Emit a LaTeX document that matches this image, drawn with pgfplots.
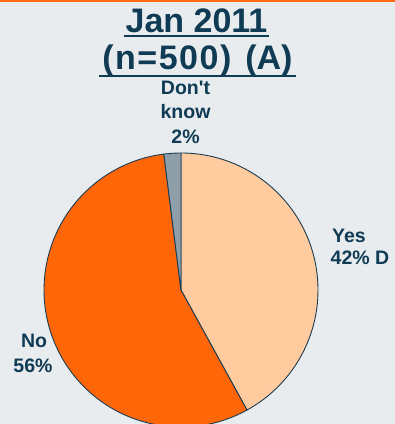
\documentclass[border=0pt]{standalone}
\usepackage{pgfplots}
\pgfplotsset{compat=1.18}
\usepackage{pgfplotstable}
\usepackage{fontspec}
\setmainfont{Liberation Sans}
\definecolor{bg}{HTML}{E9ECEE}
\definecolor{txt}{HTML}{0F3B55}
\definecolor{yescol}{HTML}{FFCB9F}
\definecolor{nocol}{HTML}{FF6608}
\definecolor{dkcol}{HTML}{8E9FA9}
\definecolor{edge}{HTML}{1A3D55}
\definecolor{topbar}{HTML}{FF6A13}

\pgfplotstableread{
label value
Yes 42
No 56
DK 2
}\piedata

\begin{document}
\begin{tikzpicture}[x=1pt,y=1pt]
\fill[bg] (0,0) rectangle (395,424);
\pgfplotstablegetelem{0}{value}\of{\piedata}\let\vA\pgfplotsretval
\pgfplotstablegetelem{1}{value}\of{\piedata}\let\vB\pgfplotsretval
\pgfplotstablegetelem{2}{value}\of{\piedata}\let\vC\pgfplotsretval
\pgfmathsetmacro\aA{90}
\pgfmathsetmacro\aB{90-3.6*\vA}
\pgfmathsetmacro\aC{\aB-3.6*\vB}
\pgfmathsetmacro\aD{\aC-3.6*\vC}
\begin{axis}[at={(0,0)},anchor=south west,scale only axis,
  width=395pt,height=424pt,xmin=0,xmax=395,ymin=0,ymax=424,hide axis]
\fill[yescol,draw=edge,line width=0.9pt] (axis cs:181,134) -- ++(\aA:137pt)
  arc[start angle=\aA,end angle=\aB,radius=137pt] -- cycle;
\fill[nocol,draw=edge,line width=0.9pt] (axis cs:181,134) -- ++(\aB:137pt)
  arc[start angle=\aB,end angle=\aC,radius=137pt] -- cycle;
\fill[dkcol,draw=edge,line width=0.9pt] (axis cs:181,134) -- ++(\aC:137pt)
  arc[start angle=\aC,end angle=\aD,radius=137pt] -- cycle;
\end{axis}
\fill[topbar] (0,422) rectangle (395,424);
\begin{scope}[every node/.style={inner sep=0pt,text=txt}]
\node[anchor=base,font=\bfseries\fontsize{34}{40}\selectfont] at (196.5,391) {Jan 2011};
\node[anchor=base,font=\bfseries\fontsize{34}{40}\selectfont] at (197.5,354) {(\kern1.5pt n\kern1.5pt =\kern1.5pt 5\kern1.5pt 0\kern1.5pt 0\kern1.5pt )\hspace{14pt}(A)};
\draw[txt,line width=1.7pt] (124,387.8) -- (269,387.8);
\draw[txt,line width=1.7pt] (99,348.3) -- (296,348.3);
\node[anchor=base,font=\bfseries\fontsize{19.5}{24}\selectfont] at (185.5,329) {Don\XeTeXglyph\XeTeXcharglyph"0027 t};
\node[anchor=base,font=\bfseries\fontsize{19.5}{24}\selectfont] at (185.5,305) {know};
\node[anchor=base,font=\bfseries\fontsize{19.5}{24}\selectfont] at (185.5,280) {2\%};
\node[anchor=base west,font=\bfseries\fontsize{19.5}{24}\selectfont] at (332,181) {Yes};
\node[anchor=base west,font=\bfseries\fontsize{19.5}{24}\selectfont] at (330.5,159) {42\% D};
\node[anchor=base,font=\bfseries\fontsize{19.5}{24}\selectfont] at (34,76) {No};
\node[anchor=base,font=\bfseries\fontsize{19.5}{24}\selectfont] at (33,51) {56\%};
\end{scope}
\pgfresetboundingbox
\path (0,0) rectangle (395,424);
\end{tikzpicture}
\end{document}
